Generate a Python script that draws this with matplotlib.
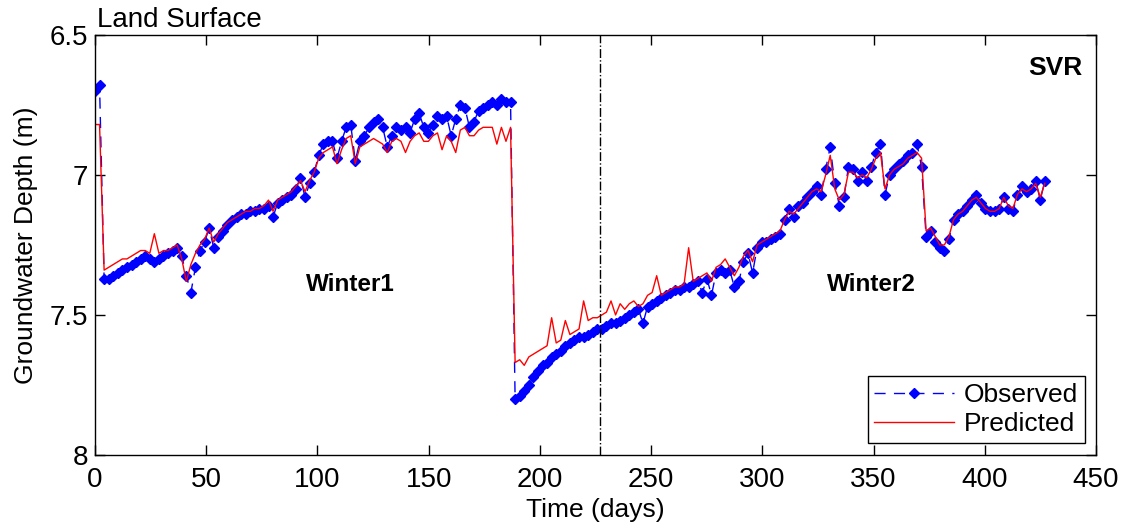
import numpy as np
import matplotlib.pyplot as plt

plt.rcParams['font.family'] = ['Liberation Sans', 'DejaVu Sans']

# observed groundwater depth (m), one sample about every 2 days
observed = [
    6.70, 6.68, 7.37, 7.37, 7.36, 7.35, 7.34, 7.33, 7.32, 7.31,
    7.30, 7.29, 7.30, 7.31, 7.30, 7.29, 7.28, 7.27, 7.26, 7.29,
    7.36, 7.42, 7.33, 7.27, 7.24, 7.19, 7.26, 7.22, 7.20, 7.18,
    7.16, 7.15, 7.14, 7.14, 7.13, 7.13, 7.12, 7.12, 7.11, 7.15,
    7.10, 7.09, 7.08, 7.07, 7.05, 7.01, 7.08, 7.03, 6.99, 6.93,
    6.89, 6.88, 6.88, 6.94, 6.88, 6.83, 6.82, 6.95, 6.88, 6.86,
    6.83, 6.81, 6.80, 6.83, 6.90, 6.86, 6.83, 6.84, 6.83, 6.85,
    6.80, 6.78, 6.83, 6.85, 6.82, 6.79, 6.80, 6.79, 6.86, 6.80,
    6.75, 6.76, 6.83, 6.81, 6.77, 6.76, 6.75, 6.74, 6.75, 6.73,
    6.74, 6.74, 7.80, 7.79, 7.77, 7.75, 7.72, 7.70, 7.68, 7.67,
    7.65, 7.64, 7.63, 7.61, 7.60, 7.59, 7.58, 7.58, 7.57, 7.56,
    7.55, 7.55, 7.54, 7.53, 7.53, 7.52, 7.51, 7.50, 7.49, 7.48,
    7.53, 7.47, 7.46, 7.45, 7.44, 7.43, 7.42, 7.41, 7.41, 7.40,
    7.40, 7.39, 7.38, 7.42, 7.37, 7.43, 7.35, 7.34, 7.35, 7.34,
    7.40, 7.38, 7.31, 7.28, 7.35, 7.26, 7.24, 7.24, 7.23, 7.22,
    7.21, 7.16, 7.12, 7.15, 7.11, 7.10, 7.08, 7.06, 7.04, 7.07,
    6.98, 6.90, 7.03, 7.11, 7.08, 6.97, 6.98, 7.02, 6.99, 7.02,
    6.97, 6.92, 6.89, 7.07, 7.00, 6.98, 6.96, 6.95, 6.93, 6.92,
    6.89, 6.97, 7.22, 7.20, 7.24, 7.26, 7.27, 7.23, 7.16, 7.14,
    7.13, 7.11, 7.09, 7.07, 7.10, 7.12, 7.13, 7.13, 7.12, 7.08,
    7.12, 7.13, 7.07, 7.04, 7.06, 7.05, 7.02, 7.09, 7.02,
]

# SVR predicted depth (m)
predicted = [
    6.82, 6.82, 7.34, 7.33, 7.32, 7.31, 7.30, 7.30, 7.29, 7.28,
    7.27, 7.27, 7.28, 7.21, 7.28, 7.27, 7.27, 7.26, 7.25, 7.30,
    7.38, 7.32, 7.28, 7.25, 7.23, 7.19, 7.24, 7.21, 7.19, 7.17,
    7.16, 7.15, 7.14, 7.13, 7.13, 7.12, 7.12, 7.11, 7.09, 7.13,
    7.09, 7.08, 7.07, 7.06, 7.04, 7.02, 7.06, 7.02, 6.99, 6.94,
    6.92, 6.91, 6.90, 6.96, 6.91, 6.87, 6.86, 6.96, 6.90, 6.89,
    6.88, 6.87, 6.88, 6.89, 6.92, 6.88, 6.87, 6.88, 6.92, 6.88,
    6.86, 6.85, 6.88, 6.88, 6.86, 6.85, 6.91, 6.86, 6.88, 6.92,
    6.84, 6.83, 6.86, 6.86, 6.84, 6.83, 6.83, 6.83, 6.89, 6.83,
    6.88, 6.83, 7.67, 7.66, 7.68, 7.65, 7.64, 7.63, 7.62, 7.61,
    7.51, 7.60, 7.59, 7.52, 7.57, 7.56, 7.55, 7.45, 7.52, 7.51,
    7.51, 7.50, 7.49, 7.45, 7.50, 7.46, 7.48, 7.46, 7.45, 7.47,
    7.46, 7.43, 7.42, 7.36, 7.43, 7.42, 7.41, 7.40, 7.40, 7.39,
    7.26, 7.38, 7.37, 7.36, 7.35, 7.38, 7.33, 7.32, 7.30, 7.33,
    7.36, 7.33, 7.29, 7.27, 7.31, 7.25, 7.24, 7.23, 7.22, 7.21,
    7.20, 7.16, 7.13, 7.14, 7.12, 7.10, 7.08, 7.06, 7.05, 7.06,
    7.00, 6.93, 7.05, 7.09, 7.07, 6.99, 6.99, 7.01, 7.00, 7.01,
    6.98, 6.94, 6.92, 7.05, 7.00, 6.98, 6.97, 6.96, 6.94, 6.93,
    6.92, 6.94, 7.20, 7.19, 7.22, 7.25, 7.25, 7.22, 7.16, 7.14,
    7.13, 7.11, 7.09, 7.08, 7.10, 7.12, 7.13, 7.13, 7.12, 7.08,
    7.11, 7.12, 7.07, 7.05, 7.06, 7.05, 7.03, 7.08, 7.03,
]

# sampling times (days), evenly spaced over the record
days = np.linspace(0, 427, len(observed))
split_day = 227

fig = plt.figure(figsize=(11.24, 5.29), dpi=100)
ax = fig.add_axes([0.0845, 0.140, 0.8906, 0.794])

ax.plot(days, observed, color='#0000ff', linestyle='--', dashes=(8, 6),
        linewidth=1, marker='D', markersize=5, label='Observed')
ax.plot(days, predicted, color='#ff0000', linewidth=1, label='Predicted')
ax.axvline(split_day, color='black', linestyle='-.', linewidth=1)

ax.set_xlim(0, 450)
ax.set_ylim(8, 6.5)
ax.set_xticks(np.arange(0, 451, 50))
ax.set_yticks([6.5, 7, 7.5, 8])
ax.set_yticklabels(['6.5', '7', '7.5', '8'])
ax.tick_params(direction='in', top=True, right=True, length=7, width=1,
               labelsize=20)
ax.tick_params(axis='x', pad=9)
ax.tick_params(axis='y', pad=5)
for s in ax.spines.values():
    s.set_linewidth(1)

ax.set_xlabel('Time (days)', fontsize=19, labelpad=3)
ax.set_ylabel('Groundwater Depth (m)', fontsize=19, labelpad=8)

ax.text(0.002, 1.005, 'Land Surface', transform=ax.transAxes, fontsize=20,
        ha='left', va='bottom')
ax.text(0.986, 0.921, 'SVR', transform=ax.transAxes, fontsize=19,
        fontweight='bold', ha='right', va='center')
ax.text(115, 7.39, 'Winter1', fontsize=17.5, fontweight='bold',
        ha='center', va='center')
ax.text(349, 7.39, 'Winter2', fontsize=17.5, fontweight='bold',
        ha='center', va='center')

ax.legend(loc='lower right', bbox_to_anchor=(0.989, 0.029), fontsize=19,
          frameon=True, fancybox=False, edgecolor='black', framealpha=1,
          handlelength=3.0, borderpad=0.25, labelspacing=0.2,
          handletextpad=0.4, borderaxespad=0)

fig.savefig('out.png', dpi=100)
